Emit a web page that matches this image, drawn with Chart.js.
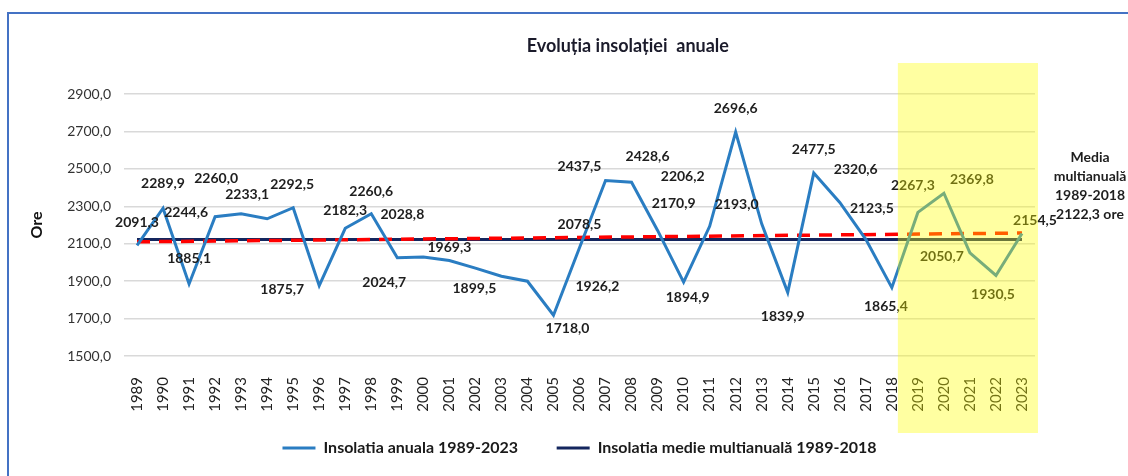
<!DOCTYPE html>
<html lang="ro">
<head>
  <meta charset="UTF-8" />
  <title>Evoluția insolației anuale</title>
  <script src="https://cdn.jsdelivr.net/npm/chart.js"></script>
  <style>
    html, body { margin: 0; padding: 0; background: #fff; overflow: hidden; }
    #wrap { position: relative; width: 1128px; height: 476px; }
    #frame {
      position: absolute; left: 7px; top: 12px;
      width: 1300px; height: 700px;
      border: 2px solid #4472c4; pointer-events: none;
    }
  </style>
</head>
<body>
  <div id="wrap">
    <canvas id="chart"></canvas>
    <div id="frame"></div>
  </div>

  <script>
    // data
    const years = ['1989','1990','1991','1992','1993','1994','1995','1996','1997','1998',
                   '1999','2000','2001','2002','2003','2004','2005','2006','2007','2008',
                   '2009','2010','2011','2012','2013','2014','2015','2016','2017','2018',
                   '2019','2020','2021','2022','2023'];
    const insolatieAnuala = [2091.3, 2289.9, 1885.1, 2244.6, 2260.0, 2233.1, 2292.5, 1875.7, 2182.3, 2260.6,
                             2024.7, 2028.8, 2010.0, 1969.3, 1926.2, 1899.5, 1718.0, 2078.5, 2437.5, 2428.6,
                             2170.9, 1894.9, 2193.0, 2696.6, 2206.2, 1839.9, 2477.5, 2320.6, 2123.5, 1865.4,
                             2267.3, 2369.8, 2050.7, 1930.5, 2154.5];
    const medieMultianuala = 2122.3;
    const trendStart = 2110;   // red dashed trend, value at 1989
    const trendEnd = 2157;     // value at 2023
    const yTicks = [1500, 1700, 1900, 2100, 2300, 2500, 2700, 2900];
    const highlightFrom = '2019';
    const noteLines = ['Media', 'multianuală', '1989-2018', '2122,3 ore'];

    // where each value label sits relative to its point (null = no label)
    const labelOffsets = [
      [0,-23], [0,-25], [0,-25], [-29,-4], [-25,-35], [-20,-24], [-1,-23], [-37,4], [0,-18], [0,-22],
      [-13,25], [-21,-43], null, [-26,-21], [96,10], [-53,7], [14,13], [0,-23], [-26,-14], [16,-26],
      [16,-27], [4,15], [27,-22], [0,-24], [-79,-47], [-5,24], [0,-24], [16,-33], [6,-31], [-6,19],
      [-5,-27], [28,-14], [-28,4], [-3,19], [13,-13]
    ];

    const fmt = v => v.toFixed(1).replace('.', ',');
    const last = years.length - 1;
    const endsOnly = (a, b) => years.map((y, i) => i === 0 ? a : (i === last ? b : null));

    const valueLabels = {
      id: 'valueLabels',
      afterDatasetsDraw(chart) {
        const ctx = chart.ctx;
        const meta = chart.getDatasetMeta(0);
        ctx.save();
        ctx.font = 'bold 14px Lato';
        ctx.fillStyle = '#1e1e1e';
        ctx.textAlign = 'center';
        ctx.textBaseline = 'middle';
        meta.data.forEach((pt, i) => {
          const off = labelOffsets[i];
          if (!off) return;
          ctx.fillText(fmt(insolatieAnuala[i]), pt.x + off[0], pt.y + off[1]);
        });
        ctx.restore();
      }
    };

    const extras = {
      id: 'extras',
      afterDraw(chart) {
        const { ctx, chartArea } = chart;
        const xs = chart.scales.x;
        ctx.save();

        // title
        ctx.font = 'bold 18px Lato';
        ctx.fillStyle = '#1b1b2b';
        ctx.textAlign = 'center';
        ctx.textBaseline = 'middle';
        ctx.fillText('Evoluția insolației  anuale',
          chartArea.left + (chartArea.right - chartArea.left) * 0.553, 46);

        // note at the right
        ctx.font = 'bold 14px Lato';
        ctx.fillStyle = '#1e1e1e';
        noteLines.forEach((t, i) => {
          ctx.fillText(t, chartArea.right + 55, chartArea.top + 63 + i * 19);
        });

        // yellow highlight over the last years, down past the tick labels
        const step = xs.getPixelForValue(1) - xs.getPixelForValue(0);
        const x0 = xs.getPixelForValue(years.indexOf(highlightFrom)) - step / 2 - 7;
        const x1 = xs.getPixelForValue(last) + 16;
        const top = chartArea.top - 31;
        const bottom = chartArea.bottom + 77;
        ctx.fillStyle = 'rgba(255, 255, 0, 0.37)';
        ctx.fillRect(x0, top, x1 - x0, bottom - top);
        ctx.restore();
      }
    };

    function draw() {
      Chart.defaults.font.family = 'Lato';
      new Chart(document.getElementById('chart'), {
        type: 'line',
        data: {
          labels: years,
          datasets: [
            {
              label: 'Insolatia anuala 1989-2023',
              data: insolatieAnuala,
              borderColor: '#2a7dc2',
              backgroundColor: '#2a7dc2',
              borderWidth: 3,
              pointRadius: 0,
              tension: 0
            },
            {
              label: 'trend',
              data: endsOnly(trendStart, trendEnd),
              borderColor: '#ff0000',
              backgroundColor: '#ff0000',
              borderWidth: 3.5,
              borderDash: [13, 9],
              pointRadius: 0,
              spanGaps: true
            },
            {
              label: 'Insolatia medie multianuală 1989-2018',
              data: endsOnly(medieMultianuala, medieMultianuala),
              borderColor: '#14265e',
              backgroundColor: '#14265e',
              borderWidth: 3,
              pointRadius: 0,
              spanGaps: true
            }
          ]
        },
        options: {
          responsive: true,
          maintainAspectRatio: false,
          animation: false,
          layout: { padding: { left: 0, right: 93, top: 94, bottom: 10 } },
          plugins: {
            title: { display: false },
            tooltip: { enabled: false },
            legend: {
              position: 'bottom',
              fullSize: false,
              labels: {
                color: '#1a1a1a',
                font: { size: 16, weight: 'bold' },
                boxWidth: 33,
                boxHeight: 3,
                padding: 23,
                filter: item => item.datasetIndex !== 1,
                // first entry gets a little extra room before the second one
                generateLabels: chart =>
                  Chart.defaults.plugins.legend.labels.generateLabels(chart)
                    .map(l => ({
                      ...l,
                      text: l.datasetIndex === 0 ? l.text + '    ' : l.text,
                      lineWidth: 0,
                      fillStyle: l.strokeStyle
                    }))
              }
            }
          },
          scales: {
            x: {
              offset: true,
              grid: { display: false, drawTicks: false },
              border: { display: false },
              ticks: {
                autoSkip: false,
                minRotation: 90,
                maxRotation: 90,
                padding: 21,
                color: '#222',
                font: { size: 15 }
              },
              afterFit: s => { s.height = 61; }
            },
            y: {
              min: yTicks[0],
              max: yTicks[yTicks.length - 1],
              grid: { color: '#d9d9d9', lineWidth: 1.5, drawTicks: false },
              border: { display: false },
              ticks: {
                stepSize: yTicks[1] - yTicks[0],
                padding: 13,
                color: '#333',
                font: { size: 14 },
                callback: v => fmt(v)
              },
              title: {
                display: true,
                text: 'Ore',
                color: '#111',
                font: { size: 16, weight: 'bold' },
                padding: { top: 27, bottom: 0 }
              },
              afterFit: s => { s.width = 124; }
            }
          }
        },
        plugins: [valueLabels, extras]
      });
    }

    Promise.all([
      document.fonts.load('14px Lato'),
      document.fonts.load('bold 14px Lato')
    ]).then(draw, draw);
  </script>
</body>
</html>
